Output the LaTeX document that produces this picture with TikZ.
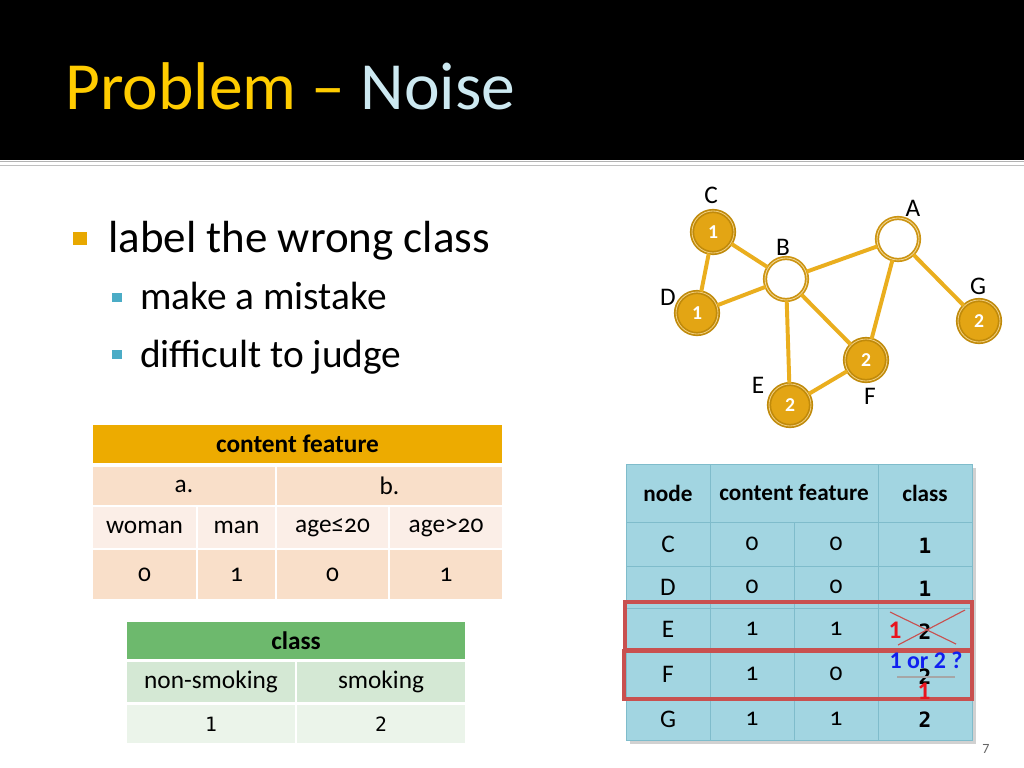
\documentclass[tikz,border=0pt]{standalone}
\usepackage{fontspec}
\setmainfont{Carlito}[Numbers=OldStyle]
\newfontfamily\liningfont{Carlito}[Numbers=Lining]
\newfontfamily\monofam{DejaVu Sans Mono}
\usetikzlibrary{positioning,calc}

\definecolor{titlegold}{HTML}{FFCC00}
\definecolor{titleblue}{HTML}{CDE9F1}
\definecolor{bulorange}{HTML}{E8A800}
\definecolor{bulblue}{HTML}{4BACC6}
\definecolor{nodegold}{HTML}{E3A514}
\definecolor{ringgold}{HTML}{C08A0A}
\definecolor{edgegold}{HTML}{EAAE1E}
\definecolor{cfhead}{HTML}{EDAB00}
\definecolor{cfrow}{HTML}{F9DFC9}
\definecolor{cfrowlight}{HTML}{FBEEE7}
\definecolor{clhead}{HTML}{6DB96D}
\definecolor{clrow}{HTML}{D4E8D4}
\definecolor{clrowlight}{HTML}{EBF4EA}
\definecolor{tblue}{HTML}{A2D5E1}
\definecolor{tline}{HTML}{7FBCCB}
\definecolor{markred}{HTML}{C9504F}
\definecolor{fixred}{HTML}{E8141E}
\definecolor{askblue}{HTML}{1020F0}

% one table cell: name, x1, y1, x2, y2, fill, font, text
\newcommand{\cellbox}[8]{%
  \fill[#6] (#2,#3) rectangle (#4,#5);
  \node[font=#7] (#1) at ({(#2+#4)/2},{(#3+#5)/2}) {#8};}

\begin{document}
\begin{tikzpicture}[x=0.025cm, y=-0.025cm,
  every node/.style={inner sep=0pt},
  title/.style={anchor=base west, font=\fontsize{48}{52}\selectfont},
  item/.style={anchor=base west, font=\fontsize{32}{36}\selectfont},
  subitem/.style={anchor=base west, font=\fontsize{28}{32}\selectfont},
  gnode/.style={circle, minimum size=1.05cm, fill=nodegold, draw=ringgold, line width=1.2pt,
    double=nodegold!55!white, double distance=0.6pt, text=white,
    font=\liningfont\bfseries\fontsize{14}{16}\selectfont},
  wnode/.style={gnode, fill=white, draw=nodegold!90!black, double=nodegold!45!white},
  glabel/.style={font=\liningfont\fontsize{18}{20}\selectfont},
  edge/.style={draw=edgegold, line width=2.8pt},
  redbox/.style={draw=markred, line width=2.6pt},
  clsval/.style={font=\monofam\bfseries\fontsize{15}{17}\selectfont}
]
\useasboundingbox (0,0) rectangle (1024,768);
\fill[white] (0,0) rectangle (1024,768);

% title bar
\fill[black] (0,0) rectangle (1024,160);
\draw[gray!60, line width=0.4pt] (0,161) -- (1024,161);
\draw[gray!50, line width=1.2pt] (0,165.5) -- (1024,165.5);
\node[title] (title) at (65,110) {\textcolor{titlegold}{Problem –} \textcolor{titleblue}{Noise}};

% bullets
\fill[bulorange] (73,232) rectangle (87,245);
\node[item] (it1) at (108,252) {label the wrong class};
\fill[bulblue] (112,293) rectangle (122,302);
\node[subitem] (it2) at (140,309) {make a mistake};
\fill[bulblue] (112,350) rectangle (122,359);
\node[subitem] (it3) at (140,367) {difficult to judge};

% graph
\node[gnode] (C) at (713,232) {1};
\node[wnode] (A) at (898,239) {};
\node[wnode] (B) at (786,279) {};
\node[gnode] (D) at (697,313) {1};
\node[gnode] (G) at (979,321) {2};
\node[gnode] (F) at (866,360) {2};
\node[gnode] (E) at (790,405) {2};
\node[glabel] (labC) at (711,195) {C};
\node[glabel] (labA) at (913,208) {A};
\node[glabel] (labB) at (783,247) {B};
\node[glabel] (labD) at (668,297) {D};
\node[glabel] (labG) at (978,286) {G};
\node[glabel] (labF) at (870,396) {F};
\node[glabel] (labE) at (758,385) {E};
\draw[edge] (C) -- (B);
\draw[edge] (C) -- (D);
\draw[edge] (D) -- (B);
\draw[edge] (B) -- (A);
\draw[edge] (B) -- (E);
\draw[edge] (B) -- (F);
\draw[edge] (A) -- (F);
\draw[edge] (A) -- (G);
\draw[edge] (E) -- (F);

% content feature table
\cellbox{cfh}{93}{425}{502}{463}{cfhead}{\bfseries\fontsize{18}{20}\selectfont}{content feature}
\cellbox{cfa}{93}{467}{275}{505}{cfrow}{\fontsize{18}{20}\selectfont}{a.}
\cellbox{cfb}{277}{467}{502}{505}{cfrow}{\fontsize{18}{20}\selectfont}{b.}
\foreach \xa/\xb/\txt/\val [count=\i] in {93/196/woman/0, 198/275/man/1, 277/388/age≤20/0, 390/502/age>20/1} {
  \cellbox{cfn\i}{\xa}{507}{\xb}{548}{cfrowlight}{\fontsize{18}{20}\selectfont}{\txt}
  \cellbox{cfv\i}{\xa}{550}{\xb}{599}{cfrow}{\fontsize{18}{20}\selectfont}{\val}
}

% class table
\cellbox{clh}{127}{622}{465}{659}{clhead}{\bfseries\fontsize{18}{20}\selectfont}{class}
\cellbox{cln1}{127}{662}{295}{702}{clrow}{\fontsize{18}{20}\selectfont}{non-smoking}
\cellbox{cln2}{297}{662}{465}{702}{clrow}{\fontsize{18}{20}\selectfont}{smoking}
\cellbox{clv1}{127}{705}{295}{743}{clrowlight}{\monofam\fontsize{14}{16}\selectfont}{1}
\cellbox{clv2}{297}{705}{465}{743}{clrowlight}{\monofam\fontsize{14}{16}\selectfont}{2}

% node table
\fill[black, opacity=0.18] (630,468) rectangle (976,744);
\fill[tblue] (626,464) rectangle (972,740);
\draw[tline, line width=0.5pt] (626,464) rectangle (972,740);
\draw[tline, line width=0.5pt] (710,464) -- (710,740) (878,464) -- (878,740) (794,522) -- (794,740);
\foreach \yy in {522,566,608,651,697} \draw[tline, line width=0.5pt] (626,\yy) -- (972,\yy);
\node[font=\bfseries\fontsize{16.5}{18}\selectfont] (hnode) at (668,493) {node};
\node[font=\bfseries\fontsize{16.5}{18}\selectfont] (hfeat) at (794,493) {content feature};
\node[font=\bfseries\fontsize{16.5}{18}\selectfont] (hclass) at (925,493) {class};
\foreach \nm/\yy/\fa/\fb in {C/544/0/0, D/587/0/0, E/629/1/1, F/674/1/0, G/719/1/1} {
  \node[font=\fontsize{18}{20}\selectfont] (r\nm) at (668,\yy) {\nm};
  \node[font=\fontsize{18}{20}\selectfont] (r\nm a) at (752,\yy) {\fa};
  \node[font=\fontsize{18}{20}\selectfont] (r\nm b) at (836,\yy) {\fb};
}
\node[clsval] (rCc) at (925,546) {1};
\node[clsval] (rDc) at (925,589) {1};
\node[clsval] (rEc) at (925,632) {2};
\node[clsval] (rFc) at (925,677) {2};
\node[clsval] (rGc) at (925,720) {2};

% noisy rows
\draw[redbox] (625,602) rectangle (972,650);
\draw[redbox] (624,651) rectangle (972,699);
\draw[markred, line width=0.8pt] (890,612) -- (956,644) (965,610) -- (898,645);
\node[font=\liningfont\bfseries\fontsize{18}{20}\selectfont, text=fixred] (fixE) at (895,630) {1};
\draw[gray!70, line width=1.5pt] (897,677) -- (955,677);
\node[font=\liningfont\bfseries\fontsize{17}{19}\selectfont, text=askblue] (askF) at (926,660) {1 or 2 ?};
\node[font=\liningfont\bfseries\fontsize{18}{20}\selectfont, text=fixred] (fixF) at (924,691) {1};

% page number
\node[font=\liningfont\fontsize{10}{12}\selectfont, text=gray!80!black] (pnum) at (986,749) {7};
\end{tikzpicture}
\end{document}
